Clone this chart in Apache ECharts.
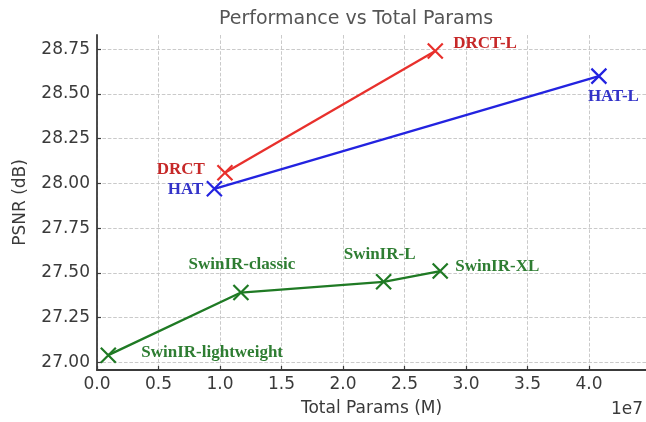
<!DOCTYPE html>
<html>
<head>
<meta charset="utf-8">
<script src="https://cdn.jsdelivr.net/npm/echarts@6/dist/echarts.min.js"></script>
<style>html,body{margin:0;padding:0;background:#fff}#c{width:646px;height:422px}</style>
</head>
<body>
<div id="c"></div>
<script>
// Data (params in raw units, shown in 1e7)
const drctNames = ['DRCT', 'DRCT-L'];
const drctParams = [1.04e7, 2.75e7];
const drctPsnr = [28.06, 28.74];

const hatNames = ['HAT', 'HAT-L'];
const hatParams = [0.954e7, 4.08e7];
const hatPsnr = [27.97, 28.60];

const swinNames = ['SwinIR-lightweight', 'SwinIR-classic', 'SwinIR-L', 'SwinIR-XL'];
const swinParams = [0.092e7, 1.17e7, 2.33e7, 2.79e7];
const swinPsnr = [27.04, 27.39, 27.45, 27.51];

const xTicks = [0, 0.5e7, 1.0e7, 1.5e7, 2.0e7, 2.5e7, 3.0e7, 3.5e7, 4.0e7];
const yTicks = [27.00, 27.25, 27.50, 27.75, 28.00, 28.25, 28.50, 28.75];

const labelStyle = {
  drct:   {'DRCT': {align:'right', offset:[-20,-3]}, 'DRCT-L': {align:'left', offset:[18,-7]}},
  hat:    {'HAT': {align:'right', offset:[-11,1]}, 'HAT-L': {align:'left', offset:[-11,20]}},
  swin:   {'SwinIR-lightweight': {align:'left', offset:[33,-3]},
           'SwinIR-classic': {align:'center', offset:[1,-28]},
           'SwinIR-L': {align:'center', offset:[-4,-27]},
           'SwinIR-XL': {align:'left', offset:[15,-4]}}
};

const xSym = 'path://M0,0L10,10M10,0L0,10';

function makeSeries(names, params, psnr, lineColor, textColor, styles) {
  return {
    type: 'line',
    data: names.map((n, i) => ({
      value: [params[i], psnr[i]],
      name: n,
      label: {
        show: true,
        formatter: n,
        position: 'inside',
        align: styles[n].align,
        verticalAlign: 'middle',
        offset: styles[n].offset,
        color: textColor,
        fontFamily: 'Liberation Serif',
        fontWeight: 'bold',
        fontSize: 17
      }
    })),
    symbol: xSym,
    symbolSize: 15,
    showAllSymbol: true,
    itemStyle: {color: lineColor, borderColor: lineColor, borderWidth: 2.2},
    lineStyle: {color: lineColor, width: 2.3},
    emphasis: {disabled: true},
    animation: false,
    z: 3
  };
}

const chart = echarts.init(document.getElementById('c'), null, {renderer: 'canvas'});
chart.setOption({
  backgroundColor: '#fff',
  animation: false,
  title: {
    text: 'Performance vs Total Params',
    left: 214, top: 5,
    textStyle: {fontFamily: 'DejaVu Sans', fontSize: 19, fontWeight: 'normal', color: '#555'}
  },
  grid: {left: 97, right: 0, top: 35, bottom: 51, containLabel: false},
  xAxis: {
    type: 'value',
    min: 0, max: 4.463e7,
    name: 'Total Params (M)',
    nameLocation: 'middle',
    nameGap: 30,
    nameTextStyle: {fontFamily: 'DejaVu Sans', fontSize: 17, color: '#3a3a3a'},
    axisLine: {show: true, onZero: false, lineStyle: {color: '#3a3a3a', width: 1.8}},
    axisTick: {show: true, inside: true, length: 4, customValues: xTicks, lineStyle: {color: '#3a3a3a', width: 1.2}},
    axisLabel: {customValues: xTicks, margin: 6, fontFamily: 'DejaVu Sans', fontSize: 17, color: '#3a3a3a',
      formatter: v => (v / 1e7).toFixed(1)},
    splitLine: {show: true, lineStyle: {color: '#c4c4c4', type: 'dashed', width: 0.9}}
  },
  yAxis: {
    type: 'value',
    min: 26.957, max: 28.83,
    name: 'PSNR (dB)',
    nameLocation: 'middle',
    nameGap: 68,
    nameTextStyle: {fontFamily: 'DejaVu Sans', fontSize: 17, color: '#3a3a3a'},
    axisLine: {show: true, onZero: false, lineStyle: {color: '#3a3a3a', width: 1.8}},
    axisTick: {show: true, inside: true, length: 4, customValues: yTicks, lineStyle: {color: '#3a3a3a', width: 1.2}},
    axisLabel: {customValues: yTicks, margin: 7, fontFamily: 'DejaVu Sans', fontSize: 17, color: '#3a3a3a',
      formatter: v => v.toFixed(2)},
    splitLine: {show: true, lineStyle: {color: '#c4c4c4', type: 'dashed', width: 0.9}}
  },
  graphic: [{
    type: 'text', left: 611, top: 401,
    style: {text: '1e7', fontFamily: 'DejaVu Sans', fontSize: 17, fill: '#3a3a3a'}
  }],
  series: [
    makeSeries(drctNames, drctParams, drctPsnr, '#e8302c', '#c62828', labelStyle.drct),
    makeSeries(hatNames, hatParams, hatPsnr, '#2323e0', '#3333c8', labelStyle.hat),
    makeSeries(swinNames, swinParams, swinPsnr, '#1f7a24', '#2e7d32', labelStyle.swin)
  ]
});
</script>
</body>
</html>
